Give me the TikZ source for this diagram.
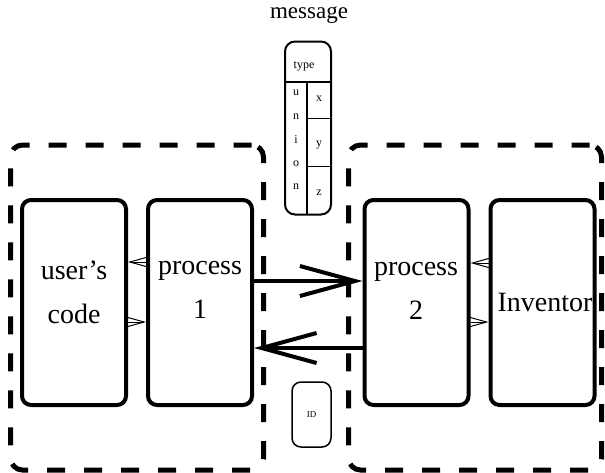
\documentclass[tikz,border=0pt]{standalone}
\usepackage{fontspec}
\setmainfont{Liberation Serif}
\usetikzlibrary{arrows.meta}
\tikzset{
  host/.style={draw, line width=5pt, dash pattern=on 18pt off 19pt,
    rounded corners=12pt, minimum width=253pt, minimum height=325pt},
  procbox/.style={draw, line width=4pt, rounded corners=9pt,
    minimum width=104pt, minimum height=205pt},
  bigtext/.style={font=\fontsize{28}{44}\selectfont, align=center, inner sep=0pt},
  smalltext/.style={font=\fontsize{12}{14}\selectfont, inner sep=0pt},
  bigarrow/.style={line width=4pt, -{Straight Barb[length=55pt,width=30pt]}},
  thinarrow/.style={line width=1pt, -{Straight Barb[length=18pt,width=10pt]}}
}
\begin{document}
\begin{tikzpicture}[x=1pt,y=-1pt]
  \useasboundingbox (0,0) rectangle (605,472);
  % labels first, so the borders lie over them
  \node[bigtext] (userlbl) at (74,292) {user's\\code};
  \node[bigtext] (proc1lbl) at (200,290) {process\\1};
  \node[bigtext] (proc2lbl) at (416,291) {process\\2};
  \node[bigtext] (invlbl) at (545,302) {Inventor};
  % hosts
  \node[host] (host1) at (137,307.5) {};
  \node[host] (host2) at (475,307.5) {};
  % processes
  \node[procbox] (user) at (74,302.5) {};
  \node[procbox] (proc1) at (200,302.5) {};
  \node[procbox] (proc2) at (416.5,302.5) {};
  \node[procbox] (inv) at (542.5,302.5) {};
  % message
  \node[font=\fontsize{23}{28}\selectfont] (msglbl) at (309,15) {message};
  \node[draw, line width=2pt, rounded corners=10pt, minimum width=46pt,
    minimum height=173pt] (msg) at (308,128) {};
  \draw[line width=2pt] (285,82) -- (331,82);
  \draw[line width=2pt] (307,82) -- (307,214);
  \draw[line width=0.8pt] (307,118) -- (331,118);
  \draw[line width=0.8pt] (307,166) -- (331,166);
  \node[smalltext] (typelbl) at (304,66) {type};
  \foreach \l [count=\i] in {u,n,i,o,n}
    \node[smalltext] (un\i) at (296,{93+23.5*(\i-1)}) {\l};
  \foreach \l/\y in {x/99,y/145,z/193}
    \node[smalltext] (field\l) at (319,\y) {\l};
  % ID
  \node[draw, line width=1.5pt, rounded corners=9pt, minimum width=39pt,
    minimum height=65pt, font=\fontsize{9}{10}\selectfont] (id) at (311.5,414.5) {ID};
  % connections
  \draw[bigarrow] (proc1.east |- 0,281) -- (proc2.west |- 0,281);
  \draw[bigarrow] (proc2.west |- 0,348) -- (proc1.east |- 0,348);
  \draw[thinarrow] (proc1.west |- 0,262) -- (user.east |- 0,262);
  \draw[thinarrow] (user.east |- 0,322) -- (proc1.west |- 0,322);
  \draw[thinarrow] (inv.west |- 0,263) -- (proc2.east |- 0,263);
  \draw[thinarrow] (proc2.east |- 0,322) -- (inv.west |- 0,322);
\end{tikzpicture}
\end{document}
